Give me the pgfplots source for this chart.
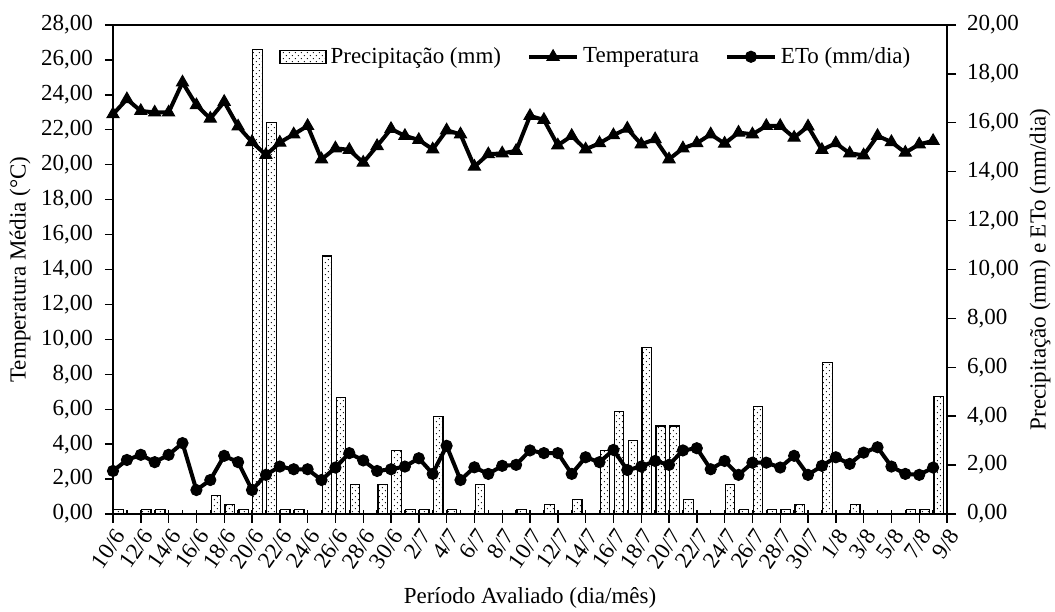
\documentclass[border=0pt]{standalone}
\usepackage{fontspec}
\setmainfont{Liberation Serif}
\usepackage{pgfplots}
\pgfplotsset{compat=1.18}
\usepackage{pgfplotstable}
\usetikzlibrary{patterns,patterns.meta}

\tikzdeclarepattern{
  name=sparsedots,
  type=uncolored,
  bounding box={(-0.5pt,-0.5pt) and (3.5pt,3.5pt)},
  tile size={(3pt,3pt)},
  code={\fill (0.7pt,0.7pt) circle [radius=0.33pt]; \fill (2.2pt,2.2pt) circle [radius=0.33pt];}
}

\pgfplotsset{
  mylinelegend/.style={legend image code/.code={\draw[mark repeat=2,mark phase=2,##1] plot coordinates {(0pt,0pt) (12pt,0pt) (24pt,0pt)};}},
  mybarlegend/.style={legend image code/.code={\draw[##1] (0pt,-3.25pt) rectangle (23pt,3.25pt);}},
}

\pgfplotstableread{
i T E
0 22.89 1.76
1 23.75 2.21
2 23.08 2.42
3 22.99 2.12
4 22.99 2.42
5 24.71 2.90
6 23.41 0.98
7 22.64 1.39
8 23.60 2.38
9 22.19 2.12
10 21.30 0.98
11 20.56 1.60
12 21.27 1.94
13 21.74 1.83
14 22.22 1.83
15 20.31 1.39
16 20.94 1.90
17 20.85 2.49
18 20.12 2.19
19 21.07 1.76
20 22.05 1.83
21 21.65 1.94
22 21.42 2.28
23 20.88 1.64
24 21.97 2.79
25 21.74 1.39
26 19.89 1.91
27 20.60 1.64
28 20.65 1.97
29 20.79 2.01
30 22.79 2.60
31 22.57 2.49
32 21.11 2.49
33 21.65 1.64
34 20.88 2.32
35 21.23 2.12
36 21.69 2.62
37 22.07 1.80
38 21.17 1.94
39 21.46 2.17
40 20.31 2.01
41 20.94 2.60
42 21.23 2.69
43 21.74 1.83
44 21.21 2.17
45 21.84 1.60
46 21.74 2.10
47 22.22 2.10
48 22.22 1.90
49 21.55 2.38
50 22.19 1.60
51 20.85 1.97
52 21.23 2.32
53 20.65 2.05
54 20.54 2.51
55 21.65 2.73
56 21.30 1.94
57 20.69 1.64
58 21.17 1.60
59 21.36 1.90
}\dataTE

\pgfplotstableread{
i P
0 0.2
2 0.2
3 0.2
7 0.75
8 0.4
9 0.2
10 19.0
11 16.0
12 0.2
13 0.2
15 10.55
16 4.75
17 1.2
19 1.2
20 2.6
21 0.2
22 0.2
23 4.0
24 0.2
26 1.2
29 0.2
31 0.4
33 0.6
35 2.6
36 4.2
37 3.0
38 6.8
39 3.6
40 3.6
41 0.6
44 1.2
45 0.2
46 4.4
47 0.2
48 0.2
49 0.4
51 6.2
53 0.4
57 0.2
58 0.2
59 4.8
}\dataP

\newcommand{\lblfont}{\fontsize{11.5}{13}\selectfont}

\begin{document}
\begin{tikzpicture}
\pgfplotsset{
  every axis/.append style={
    scale only axis, width=417pt, height=244.5pt,
    xmin=0, xmax=60,
    axis line style={line width=0.7pt},
    every tick/.style={black, line width=0.7pt},
    /pgf/number format/assume math mode=true,
    /pgf/number format/.cd, fixed, fixed zerofill, precision=2, use comma,
  },
}
% right axis: precipitation and ETo
\begin{axis}[
  name=ax2,
  ymin=0, ymax=20,
  ytick={0,2,...,20},
  ytick pos=right, yticklabel pos=right,
  xtick={0,2,...,60},
  xticklabels={10/6,12/6,14/6,16/6,18/6,20/6,22/6,24/6,26/6,28/6,30/6,2/7,4/7,6/7,8/7,10/7,12/7,14/7,16/7,18/7,20/7,22/7,24/7,26/7,28/7,30/7,1/8,3/8,5/8,7/8,9/8},
  xtick pos=bottom,
  tick align=outside, major tick length=4.5pt,
  x tick label style={rotate=55, anchor=north east, font=\lblfont, inner sep=1.5pt},
  y tick label style={font=\lblfont, xshift=2pt},
  xlabel={Período Avaliado (dia/mês)},
  ylabel={Precipitação (mm) e ETo (mm/dia)},
  every axis x label/.style={at={(axis description cs:0.5,0)}, yshift=-42pt, anchor=center, font=\lblfont},
  every axis y label/.style={at={(axis description cs:1,0.5)}, xshift=46.5pt, rotate=90, anchor=center, font=\lblfont},
  legend style={at={(rel axis cs:0.199,0.935)}, anchor=west, draw=none, fill=none, font=\lblfont,
    inner sep=0pt, legend columns=-1,
    /tikz/every even column/.append style={column sep=11pt}},
  legend cell align=left,
]
\addplot[ybar, bar width=0.68, draw=black, line width=0.6pt, pattern=sparsedots, pattern color=black, mybarlegend]
  table[x expr=\thisrow{i}+0.4, y=P]{\dataP};
\addlegendentry{Precipitação (mm)}
\addlegendimage{black, line width=2pt, mark=triangle*, mark size=3.5pt, mark options={line width=0.5pt}, mylinelegend}
\addlegendentry{Temperatura}
\addplot[black, line width=2pt, mark=*, mark size=2.8pt, mark options={line width=0.5pt}, mylinelegend]
  table[x=i, y=E]{\dataTE};
\addlegendentry{ETo (mm/dia)}
\end{axis}
% left axis: temperature
\begin{axis}[
  ymin=0, ymax=28,
  ytick={0,2,...,28},
  ytick pos=left,
  xtick pos=bottom,
  tick align=outside, major tick length=4pt,
  y tick label style={font=\lblfont, xshift=-2.5pt},
  xtick=\empty,
  extra x ticks={0,1,...,60},
  extra x tick labels={},
  extra x tick style={tick align=inside, major tick length=2pt},
  ylabel={Temperatura Média (°C)},
  every axis y label/.style={at={(axis description cs:0,0.5)}, xshift=-46.5pt, rotate=90, anchor=center, font=\lblfont},
]
\addplot[black, line width=2pt, mark=triangle*, mark size=3.5pt, mark options={line width=0.5pt}]
  table[x=i, y=T]{\dataTE};
\end{axis}
\pgfresetboundingbox
\path ([xshift=-56.5pt,yshift=-49pt]ax2.south west) rectangle ([xshift=54pt,yshift=12.5pt]ax2.north east);
\end{tikzpicture}
\end{document}
